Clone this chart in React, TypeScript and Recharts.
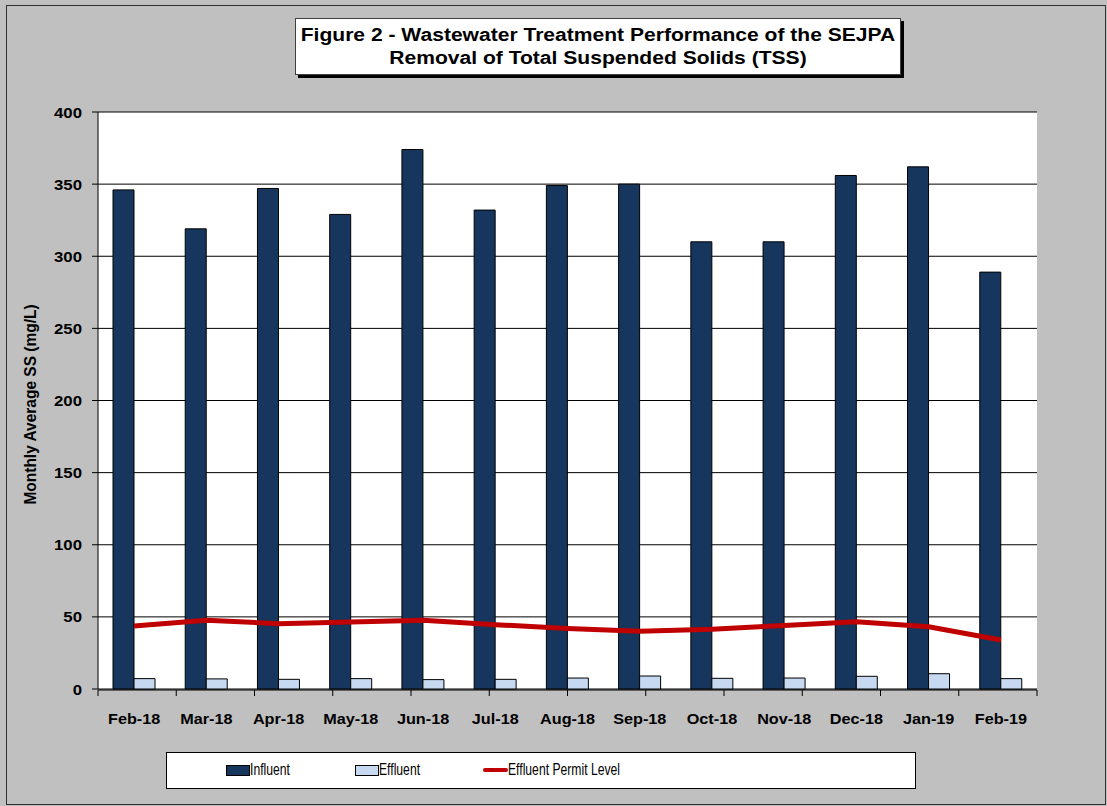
import {
  ComposedChart,
  Bar,
  Line,
  XAxis,
  YAxis,
  CartesianGrid,
} from 'recharts'

const months = [
  'Feb-18', 'Mar-18', 'Apr-18', 'May-18', 'Jun-18', 'Jul-18', 'Aug-18',
  'Sep-18', 'Oct-18', 'Nov-18', 'Dec-18', 'Jan-19', 'Feb-19',
]
const influent = [346, 319, 347, 329, 374, 332, 349, 350, 310, 310, 356, 362, 289]
const effluent = [7.2, 7.0, 6.7, 7.2, 6.5, 6.7, 7.6, 9.0, 7.4, 7.6, 8.8, 10.6, 7.2]
const permitLevel = [43.7, 47.6, 45.3, 46.4, 47.6, 44.6, 42.0, 40.0, 41.4, 44.1, 46.7, 43.2, 34.0]
const yTicks = [0, 50, 100, 150, 200, 250, 300, 350, 400]
const edgeTicks = [0, 1, 2, 3, 4, 5, 6, 7, 8, 9, 10, 11, 12, 13]

const INFLUENT_COLOR = '#17365D'
const EFFLUENT_COLOR = '#C6D9F1'
const PERMIT_COLOR = '#C00000'
const FONT = 'Arial, "Liberation Sans", sans-serif'

const chartData = months.map((m, i) => ({
  month: m,
  influent: influent[i],
  effluent: effluent[i],
  permit: permitLevel[i],
}))

// the original text is drawn a bit wider than plain Arial
function MonthTick({ x, y, payload }: any) {
  return (
    <text
      transform={`translate(${x} ${y + 27}) scale(1.12 1)`}
      textAnchor="middle"
      fill="#000"
      fontSize={14.5}
      fontWeight={700}
      fontFamily={FONT}
    >
      {payload.value}
    </text>
  )
}

function ValueTick({ x, y, payload }: any) {
  return (
    <text
      transform={`translate(${x - 8} ${y + 5.5}) scale(1.12 1)`}
      textAnchor="end"
      fill="#000"
      fontSize={15}
      fontWeight={700}
      fontFamily={FONT}
    >
      {payload.value}
    </text>
  )
}

function YLabel({ viewBox }: any) {
  const cy = viewBox.y + viewBox.height / 2 + 4
  return (
    <text
      transform={`translate(36 ${cy}) scale(1.05 1) rotate(-90)`}
      textAnchor="middle"
      fill="#000"
      fontSize={15.5}
      fontWeight={700}
      fontFamily={FONT}
    >
      Monthly Average SS (mg/L)
    </text>
  )
}

export default function App() {
  return (
    <div
      style={{
        position: 'absolute',
        left: 0,
        top: 0,
        width: 1107,
        height: 806,
        background: '#C0C0C0',
        fontFamily: FONT,
      }}
    >
      {/* chart area border */}
      <div
        style={{
          position: 'absolute',
          left: 6,
          top: 5,
          width: 1100,
          height: 800,
          border: '1px solid #303030',
          boxSizing: 'border-box',
        }}
      />

      <div style={{ position: 'absolute', left: 0, top: 0 }}>
        <ComposedChart
          width={1107}
          height={806}
          data={chartData}
          margin={{ top: 112, right: 70, bottom: 115, left: 0 }}
          barGap={0}
        >
          <CartesianGrid vertical={false} stroke="#000" strokeWidth={1} fill="#fff" />
          {/* tick marks on the month boundaries */}
          <XAxis
            xAxisId="edges"
            type="number"
            domain={[0, 13]}
            ticks={edgeTicks}
            height={1}
            axisLine={{ stroke: '#000' }}
            tickLine={{ stroke: '#000' }}
            tickSize={6}
            tick={() => <g />}
            interval={0}
          />
          <XAxis
            dataKey="month"
            height={1}
            interval={0}
            tickLine={false}
            axisLine={false}
            tick={<MonthTick />}
          />
          <YAxis
            width={98}
            domain={[0, 400]}
            ticks={yTicks}
            interval={0}
            axisLine={{ stroke: '#000' }}
            tickLine={{ stroke: '#000' }}
            tickSize={6}
            tick={<ValueTick />}
            label={<YLabel />}
          />
          <Bar
            dataKey="influent"
            name="Influent"
            fill={INFLUENT_COLOR}
            stroke="#000"
            strokeWidth={1}
            barSize={21}
            isAnimationActive={false}
          />
          <Bar
            dataKey="effluent"
            name="Effluent"
            fill={EFFLUENT_COLOR}
            stroke="#000"
            strokeWidth={1}
            barSize={21}
            isAnimationActive={false}
          />
          <Line
            type="linear"
            dataKey="permit"
            name="Effluent Permit Level"
            stroke={PERMIT_COLOR}
            strokeWidth={5}
            dot={false}
            activeDot={false}
            isAnimationActive={false}
          />
        </ComposedChart>
      </div>

      {/* title box */}
      <div
        style={{
          position: 'absolute',
          left: 295,
          top: 18,
          width: 606,
          height: 57,
          background: '#fff',
          border: '1px solid #404040',
          boxShadow: '3px 3px 0 #000',
          boxSizing: 'border-box',
          textAlign: 'center',
          fontSize: 18,
          fontWeight: 700,
          lineHeight: '23px',
          paddingTop: 5,
          color: '#000',
        }}
      >
        <div style={{ transform: 'scaleX(1.17)' }}>
          Figure 2 - Wastewater Treatment Performance of the SEJPA
        </div>
        <div style={{ transform: 'scaleX(1.17)' }}>
          Removal of Total Suspended Solids (TSS)
        </div>
      </div>

      {/* legend */}
      <div
        style={{
          position: 'absolute',
          left: 166,
          top: 752,
          width: 750,
          height: 37,
          background: '#fff',
          border: '1px solid #000',
          boxSizing: 'border-box',
          color: '#000',
        }}
      >
        {[
          { label: 'Influent', x: 59, kind: 'bar', color: INFLUENT_COLOR },
          { label: 'Effluent', x: 188, kind: 'bar', color: EFFLUENT_COLOR },
          { label: 'Effluent Permit Level', x: 316, kind: 'line', color: PERMIT_COLOR },
        ].map((item) => (
          <div
            key={item.label}
            style={{
              position: 'absolute',
              left: item.x,
              top: 6,
              display: 'flex',
              alignItems: 'center',
              height: 22,
            }}
          >
            {item.kind === 'bar' ? (
              <span
                style={{
                  display: 'inline-block',
                  width: 22,
                  height: 9,
                  background: item.color,
                  border: '1px solid #000',
                }}
              />
            ) : (
              <span
                style={{
                  display: 'inline-block',
                  width: 25,
                  height: 4,
                  background: item.color,
                  borderRadius: 2,
                }}
              />
            )}
            <span
              style={{
                display: 'inline-block',
                fontSize: 16,
                transform: 'scaleX(0.76)',
                transformOrigin: 'left center',
                whiteSpace: 'nowrap',
              }}
            >
              {item.label}
            </span>
          </div>
        ))}
      </div>
    </div>
  )
}
